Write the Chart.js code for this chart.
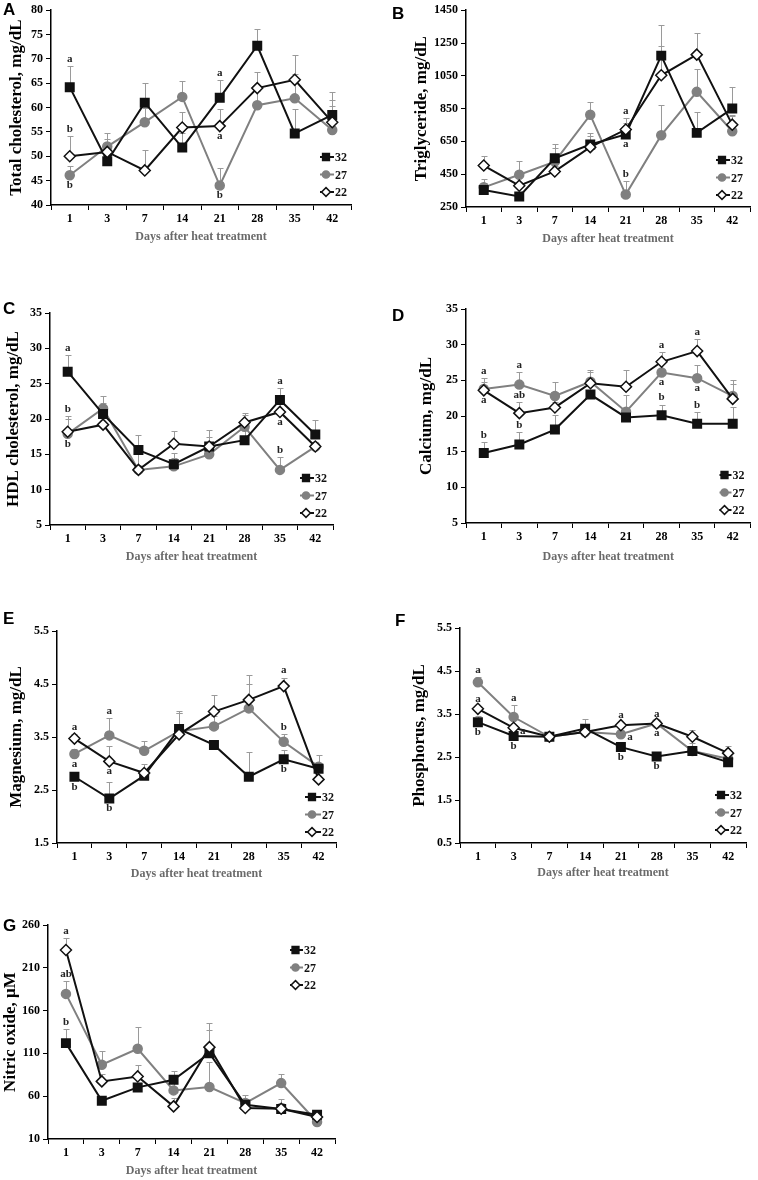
<!DOCTYPE html>
<html>
<head>
<meta charset="utf-8">
<script src="https://cdn.jsdelivr.net/npm/chart.js@4.4.1/dist/chart.umd.min.js"></script>
<style>
  body { margin: 0; background: #fff; width: 758px; height: 1180px; position: relative; overflow: hidden; }
  canvas { position: absolute; }
  .tag { position: absolute; font: bold 17px "Liberation Sans", Arial, sans-serif; line-height: 1; color: #000; }
</style>
</head>
<body>
<script>
const days = ['1', '3', '7', '14', '21', '28', '35', '42'];
const groups = ['32', '27', '22'];

// A - total cholesterol
const tcTicks = [40, 45, 50, 55, 60, 65, 70, 75, 80];
const tc32 = [64.2, 49.0, 61.0, 51.8, 62.0, 72.7, 54.7, 58.5];
const tc27 = [46.1, 52.0, 57.0, 62.2, 44.0, 60.5, 61.9, 55.4];
const tc22 = [50.0, 50.9, 47.1, 55.9, 56.2, 64.0, 65.7, 57.0];
const tcSe32 = [4.4, 1.8, 4.0, 3.0, 3.6, 3.4, 5.0, 4.7];
const tcSe27 = [2.0, 2.8, 3.0, 3.3, 3.6, 3.0, 5.0, 4.9];
const tcSe22 = [4.2, 2.6, 4.1, 3.1, 3.6, 3.4, 5.1, 4.5];
const tcLetters = [[0, 0, 'a', 'up'], [0, 2, 'b', 'up'], [0, 1, 'b', 'down'], [4, 0, 'a', 'up'], [4, 2, 'a', 'down'], [4, 1, 'b', 'down']];

// B - triglyceride
const tgTicks = [250, 450, 650, 850, 1050, 1250, 1450];
const tg32 = [354, 314, 547, 631, 692, 1173, 702, 850];
const tg27 = [370, 447, 527, 812, 326, 688, 952, 712];
const tg22 = [503, 380, 467, 615, 722, 1053, 1179, 752];
const tgSe32 = [41, 20, 88, 69, 68, 187, 128, 130];
const tgSe27 = [50, 83, 83, 78, 84, 182, 138, 100];
const tgSe22 = [57, 25, 35, 65, 68, 177, 131, 50];
const tgLetters = [[4, 2, 'a', 'up'], [4, 0, 'a', 'down'], [4, 1, 'b', 'up']];

// C - HDL cholesterol
const hdlTicks = [5, 10, 15, 20, 25, 30, 35];
const hdl32 = [26.7, 20.7, 15.6, 13.6, 16.1, 17.0, 22.7, 17.8];
const hdl27 = [17.9, 21.5, 12.8, 13.3, 15.0, 18.9, 12.8, 16.1];
const hdl22 = [18.2, 19.2, 12.8, 16.5, 16.1, 19.5, 21.0, 16.1];
const hdlSe32 = [2.3, 1.6, 2.2, 1.6, 1.3, 1.5, 1.7, 2.0];
const hdlSe27 = [2.1, 1.7, 0.7, 1.2, 1.0, 1.6, 1.8, 0.5];
const hdlSe22 = [2.2, 1.3, 2.2, 1.8, 2.4, 1.4, 1.5, 0.7];
const hdlLetters = [[0, 0, 'a', 'up'], [0, 2, 'b', 'up'], [0, 1, 'b', 'down'], [6, 0, 'a', 'up'], [6, 2, 'a', 'down'], [6, 1, 'b', 'up']];

// D - calcium
const caTicks = [5, 10, 15, 20, 25, 30, 35];
const ca32 = [14.8, 16.0, 18.1, 23.0, 19.8, 20.1, 18.9, 18.9];
const ca27 = [23.8, 24.4, 22.8, 24.8, 20.6, 26.1, 25.3, 22.8];
const ca22 = [23.6, 20.4, 21.2, 24.6, 24.1, 27.6, 29.1, 22.4];
const caSe32 = [1.6, 1.7, 2.0, 0.5, 1.2, 1.5, 1.7, 2.3];
const caSe27 = [1.5, 1.7, 1.9, 1.4, 2.3, 1.5, 1.8, 2.2];
const caSe22 = [1.2, 1.6, 0.8, 1.8, 2.4, 1.4, 1.7, 2.1];
const caLetters = [[0, 1, 'a', 'up'], [0, 2, 'a', 'down'], [0, 0, 'b', 'up'], [1, 1, 'a', 'up'], [1, 2, 'ab', 'up'], [1, 0, 'b', 'up'],
  [5, 2, 'a', 'up'], [5, 1, 'a', 'down'], [5, 0, 'b', 'up'], [6, 2, 'a', 'up'], [6, 1, 'a', 'down'], [6, 0, 'b', 'up']];

// E - magnesium
const mgTicks = [1.5, 2.5, 3.5, 4.5, 5.5];
const mg32 = [2.75, 2.34, 2.77, 3.65, 3.35, 2.75, 3.08, 2.90];
const mg27 = [3.18, 3.53, 3.24, 3.61, 3.70, 4.04, 3.41, 2.94];
const mg22 = [3.47, 3.04, 2.82, 3.55, 3.98, 4.20, 4.46, 2.70];
const mgSe32 = [0.07, 0.31, 0.08, 0.30, 0.05, 0.47, 0.17, 0.05];
const mgSe27 = [0.09, 0.32, 0.18, 0.39, 0.20, 0.63, 0.14, 0.22];
const mgSe22 = [0.08, 0.29, 0.18, 0.40, 0.32, 0.30, 0.16, 0.05];
const mgLetters = [[0, 2, 'a', 'up'], [0, 1, 'a', 'down'], [0, 0, 'b', 'down'], [1, 1, 'a', 'up'], [1, 2, 'a', 'down'], [1, 0, 'b', 'down'],
  [6, 2, 'a', 'up'], [6, 1, 'b', 'up'], [6, 0, 'b', 'down']];

// F - phosphorus
const pTicks = [0.5, 1.5, 2.5, 3.5, 4.5, 5.5];
const p32 = [3.31, 2.99, 2.97, 3.16, 2.73, 2.51, 2.64, 2.38];
const p27 = [4.24, 3.43, 2.97, 3.08, 3.03, 3.28, 2.64, 2.46];
const p22 = [3.62, 3.18, 2.97, 3.08, 3.24, 3.28, 2.97, 2.59];
const pSe32 = [0.14, 0.06, 0.05, 0.09, 0.05, 0.05, 0.06, 0.04];
const pSe27 = [0.11, 0.27, 0.08, 0.30, 0.05, 0.05, 0.18, 0.09];
const pSe22 = [0.06, 0.07, 0.10, 0.07, 0.06, 0.05, 0.15, 0.16];
const pLetters = [[0, 1, 'a', 'up'], [0, 2, 'a', 'up'], [0, 0, 'b', 'down'], [1, 1, 'a', 'up'], [1, 2, 'a', 'right'], [1, 0, 'b', 'down'],
  [4, 2, 'a', 'up'], [4, 1, 'a', 'right'], [4, 0, 'b', 'down'], [5, 2, 'a', 'up'], [5, 2, 'a', 'down'], [5, 0, 'b', 'down']];

// G - nitric oxide
const noTicks = [10, 60, 110, 160, 210, 260];
const no32 = [122, 54.7, 70.3, 79.2, 110.3, 50.0, 45.0, 38.4];
const no27 = [179.5, 96.7, 115.4, 66.8, 70.7, 52.0, 75.3, 29.8];
const no22 = [230.8, 77.3, 83.1, 48.1, 117.3, 46.2, 45.4, 35.7];
const noSe32 = [16, 6, 5, 10, 27, 5, 7, 3];
const noSe27 = [14.5, 15.6, 25.6, 11, 29.3, 9, 10.5, 4];
const noSe22 = [14.2, 8.7, 12.9, 9.9, 28.7, 4, 11.3, 2.3];
const noLetters = [[0, 2, 'a', 'up'], [0, 1, 'ab', 'up'], [0, 0, 'b', 'up']];

const serif = '"Liberation Serif", "Times New Roman", serif';
const styles = [
  { line: '#111', fill: '#111', shape: 'rect', r: 6, order: 1 },
  { line: '#808080', fill: '#808080', shape: 'circle', r: 4.5, order: 2 },
  { line: '#111', fill: '#fff', shape: 'rectRot', r: 5.5, order: 0 }
];

function drawMark(ctx, shape, x, y, r, fill, stroke) {
  ctx.beginPath();
  if (shape === 'rect') {
    const s = r * Math.SQRT1_2;
    ctx.rect(x - s, y - s, 2 * s, 2 * s);
  } else if (shape === 'circle') {
    ctx.arc(x, y, r, 0, Math.PI * 2);
  } else {
    ctx.moveTo(x, y - r); ctx.lineTo(x + r, y); ctx.lineTo(x, y + r); ctx.lineTo(x - r, y); ctx.closePath();
  }
  ctx.fillStyle = fill; ctx.fill();
  ctx.lineWidth = 1.5; ctx.strokeStyle = stroke; ctx.stroke();
}

function makePanel(p) {
  const [bx, by, bw, bh] = p.box;
  const [al, at, ar, ab] = p.area;
  const cv = document.createElement('canvas');
  cv.width = bw; cv.height = bh;
  cv.style.left = bx + 'px'; cv.style.top = by + 'px';
  document.body.appendChild(cv);

  const tag = document.createElement('div');
  tag.className = 'tag';
  tag.textContent = p.tag;
  tag.style.left = p.tagAt[0] + 'px';
  tag.style.top = p.tagAt[1] + 'px';
  document.body.appendChild(tag);

  const datasets = groups.map((g, i) => ({
    label: g,
    data: p.series[i],
    err: p.errs[i],
    borderColor: styles[i].line,
    backgroundColor: styles[i].fill,
    pointBackgroundColor: styles[i].fill,
    pointBorderColor: styles[i].line,
    pointStyle: styles[i].shape,
    pointRadius: styles[i].r,
    pointBorderWidth: 1.5,
    borderWidth: 2,
    tension: 0,
    order: styles[i].order
  }));

  // error bars (upper only), letters and legend
  const extras = {
    id: 'extras' + p.tag,
    beforeDatasetsDraw(chart) {
      const { ctx, scales: { x, y } } = chart;
      ctx.save();
      ctx.strokeStyle = '#9a9a9a';
      ctx.lineWidth = 1;
      chart.data.datasets.forEach(ds => {
        ds.err.forEach((e, j) => {
          const px = Math.round(x.getPixelForValue(j)) + 0.5;
          const y0 = y.getPixelForValue(ds.data[j]);
          const y1 = Math.round(y.getPixelForValue(ds.data[j] + e)) + 0.5;
          ctx.beginPath();
          ctx.moveTo(px, y0); ctx.lineTo(px, y1);
          ctx.moveTo(px - 3, y1); ctx.lineTo(px + 3, y1);
          ctx.stroke();
        });
      });
      ctx.restore();
    },
    afterDraw(chart) {
      const { ctx, chartArea, scales: { x, y } } = chart;
      const dsets = chart.data.datasets;
      ctx.save();
      ctx.font = 'bold 11px ' + serif;
      ctx.fillStyle = '#222';
      ctx.textAlign = 'center';
      ctx.textBaseline = 'middle';
      p.letters.forEach(([j, s, txt, pos]) => {
        const ds = dsets[s];
        let px = x.getPixelForValue(j);
        let py;
        if (pos === 'up') py = y.getPixelForValue(ds.data[j] + ds.err[j]) - 7;
        else if (pos === 'down') py = y.getPixelForValue(ds.data[j]) + 10;
        else { px += 9; py = y.getPixelForValue(ds.data[j]) + 3; }
        ctx.fillText(txt, px, py);
      });

      // legend
      const lg = p.legend;
      const x0 = chartArea.right - lg.dx;
      ctx.font = 'bold 12px ' + serif;
      ctx.textAlign = 'left';
      groups.forEach((g, i) => {
        const ry = lg.corner === 'tr'
          ? chartArea.top + lg.dy + i * 17.5
          : chartArea.bottom - lg.dy - (groups.length - 1 - i) * 17.5;
        ctx.beginPath();
        ctx.strokeStyle = styles[i].line;
        ctx.lineWidth = 2;
        ctx.moveTo(x0, ry); ctx.lineTo(x0 + lg.len, ry);
        ctx.stroke();
        drawMark(ctx, styles[i].shape, x0 + lg.len / 2 - 1, ry, styles[i].r * 0.8, styles[i].fill, styles[i].line);
        ctx.fillStyle = '#111';
        ctx.fillText(g, x0 + lg.len + 1, ry + 1);
      });
      ctx.restore();
    }
  };

  const yTitlePad = Math.max(0, p.yTitleX - bx - 10.2);
  const xTitlePad = Math.max(0, by + bh - p.xTitleY - 7.2);

  new Chart(cv, {
    type: 'line',
    data: { labels: days, datasets },
    options: {
      responsive: false,
      animation: false,
      events: [],
      layout: { padding: { left: 0, top: at - by, right: bx + bw - ar, bottom: 0 } },
      plugins: { legend: { display: false }, tooltip: { enabled: false } },
      scales: {
        x: {
          type: 'category',
          offset: true,
          grid: { drawOnChartArea: false, drawTicks: true, tickLength: 5, color: '#000', offset: true },
          border: { display: true, color: '#000', width: 1.5 },
          ticks: { color: '#000', font: { family: serif, size: 12, weight: 'bold' }, padding: 2, maxRotation: 0, autoSkip: false },
          title: {
            display: true, text: 'Days after heat treatment', color: '#6a6a6a',
            font: { family: serif, size: 12, weight: 'bold' }, padding: { top: 0, bottom: xTitlePad }
          },
          afterFit: s => { s.height = by + bh - ab; }
        },
        y: {
          min: p.ticks[0],
          max: p.ticks[p.ticks.length - 1],
          afterBuildTicks: s => { s.ticks = p.ticks.map(v => ({ value: v })); },
          grid: { drawOnChartArea: false, drawTicks: true, tickLength: 5, color: '#000' },
          border: { display: true, color: '#000', width: 1.5 },
          ticks: { color: '#000', font: { family: serif, size: 12, weight: 'bold' }, padding: 3, callback: v => String(v) },
          title: {
            display: true, text: p.yTitle, color: '#000',
            font: { family: serif, size: 17, weight: 'bold' }, padding: { top: yTitlePad, bottom: 0 }
          },
          afterFit: s => { s.width = al - bx; }
        }
      }
    },
    plugins: [extras]
  });
}

makePanel({
  tag: 'A', tagAt: [3, 1], box: [0, 0, 372, 246], area: [51, 5, 351, 205],
  yTitle: 'Total cholesterol, mg/dL', yTitleX: 17, xTitleY: 237, ticks: tcTicks,
  series: [tc32, tc27, tc22], errs: [tcSe32, tcSe27, tcSe22], letters: tcLetters,
  legend: { corner: 'br', dx: 31, dy: 13, len: 14 }
});
makePanel({
  tag: 'B', tagAt: [392, 5], box: [380, 0, 378, 248], area: [466, 7, 750, 207],
  yTitle: 'Triglyceride, mg/dL', yTitleX: 422, xTitleY: 239, ticks: tgTicks,
  series: [tg32, tg27, tg22], errs: [tgSe32, tgSe27, tgSe22], letters: tgLetters,
  legend: { corner: 'br', dx: 34, dy: 12, len: 14 }
});
makePanel({
  tag: 'C', tagAt: [3, 300], box: [0, 290, 372, 276], area: [50, 313, 333, 525],
  yTitle: 'HDL cholesterol, mg/dL', yTitleX: 14, xTitleY: 557, ticks: hdlTicks,
  series: [hdl32, hdl27, hdl22], errs: [hdlSe32, hdlSe27, hdlSe22], letters: hdlLetters,
  legend: { corner: 'br', dx: 33, dy: 12, len: 14 }
});
makePanel({
  tag: 'D', tagAt: [392, 307], box: [380, 290, 378, 276], area: [466, 309, 754, 523],
  yTitle: 'Calcium, mg/dL', yTitleX: 427, xTitleY: 557, ticks: caTicks,
  series: [ca32, ca27, ca22], errs: [caSe32, caSe27, caSe22], letters: caLetters,
  legend: { corner: 'br', dx: 31, dy: 13, len: 12 }
});
makePanel({
  tag: 'E', tagAt: [3, 610], box: [0, 590, 372, 293], area: [57, 631, 336, 843],
  yTitle: 'Magnesium, mg/dL', yTitleX: 17, xTitleY: 874, ticks: mgTicks,
  series: [mg32, mg27, mg22], errs: [mgSe32, mgSe27, mgSe22], letters: mgLetters,
  legend: { corner: 'br', dx: 31, dy: 11, len: 16 }
});
makePanel({
  tag: 'F', tagAt: [395, 612], box: [380, 590, 378, 292], area: [460, 628, 746, 843],
  yTitle: 'Phosphorus, mg/dL', yTitleX: 420, xTitleY: 873, ticks: pTicks,
  series: [p32, p27, p22], errs: [pSe32, pSe27, pSe22], letters: pLetters,
  legend: { corner: 'br', dx: 31, dy: 13, len: 14 }
});
makePanel({
  tag: 'G', tagAt: [3, 917], box: [0, 900, 372, 280], area: [48, 925, 335, 1139],
  yTitle: 'Nitric oxide, µM', yTitleX: 10, xTitleY: 1171, ticks: noTicks,
  series: [no32, no27, no22], errs: [noSe32, noSe27, noSe22], letters: noLetters,
  legend: { corner: 'tr', dx: 45, dy: 25, len: 13 }
});
</script>
</body>
</html>
